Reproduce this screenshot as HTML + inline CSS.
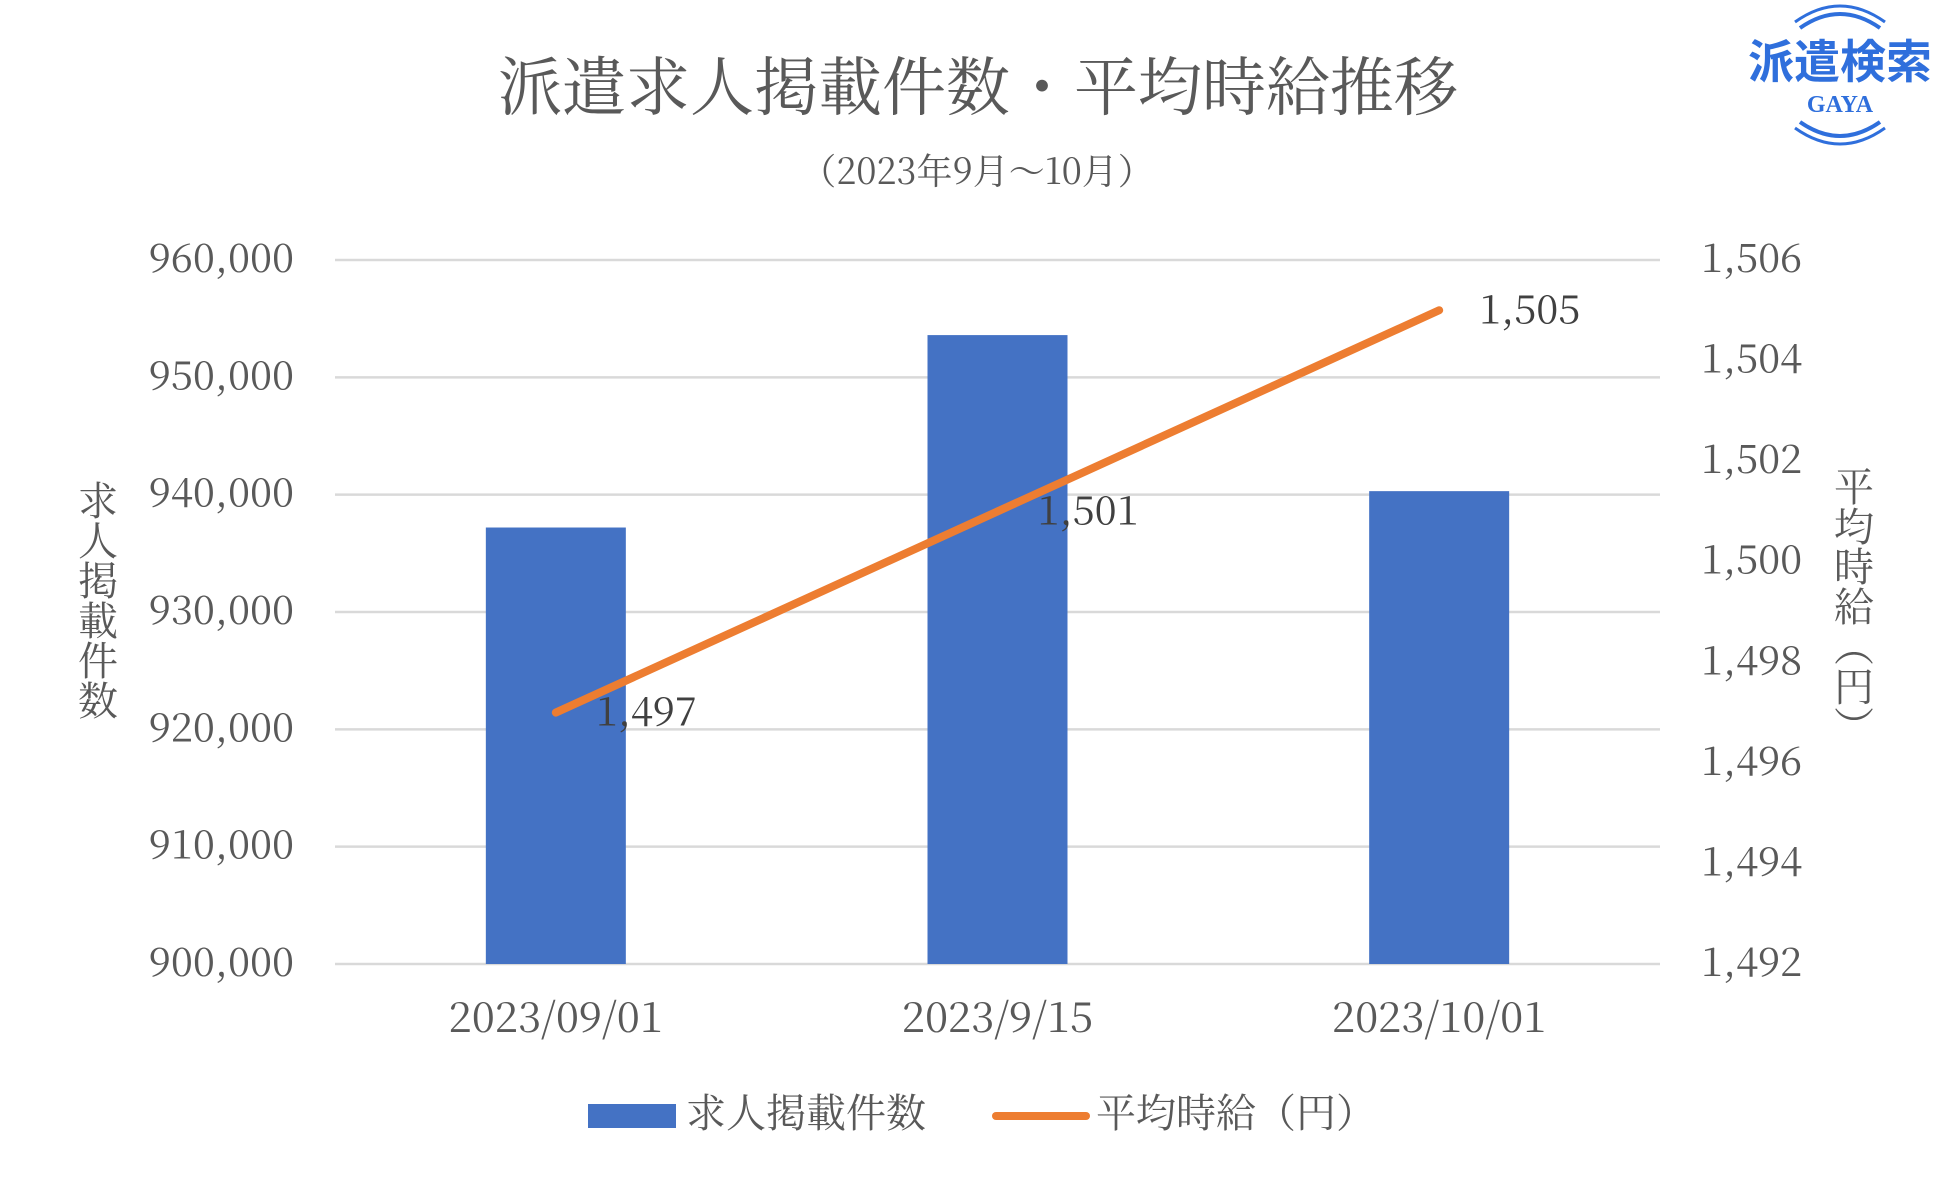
<!DOCTYPE html>
<html><head><meta charset="utf-8">
<style>
html,body{margin:0;padding:0;background:#fff;}
svg{display:block;font-family:"Noto Serif CJK JP","Liberation Serif",serif;}
</style></head>
<body>
<svg id="chart" width="1949" height="1182" viewBox="0 0 1949 1182" xmlns="http://www.w3.org/2000/svg">
<text x="978" y="110" text-anchor="middle" font-size="64" fill="#595959">派遣求人掲載件数・平均時給推移</text>
<text x="977" y="184" text-anchor="middle" font-size="36" fill="#595959">（2023年9月～10月）</text>
<g>
<path d="M1800 28 Q1840 0 1880 28" fill="none" stroke="#2f6fdc" stroke-width="4"/>
<path d="M1795 22 Q1840 -10 1885 22" fill="none" stroke="#2f6fdc" stroke-width="3"/>
<text x="1840" y="78" text-anchor="middle" font-size="46" font-weight="bold" fill="#2f6fdc" font-family="'Noto Sans CJK JP',sans-serif">派遣検索</text>
<text x="1840" y="112" text-anchor="middle" font-size="24" font-weight="bold" fill="#2f6fdc" font-family="'Liberation Serif',serif">GAYA</text>
<path d="M1800 122 Q1840 150 1880 122" fill="none" stroke="#2f6fdc" stroke-width="4"/>
<path d="M1795 128 Q1840 160 1885 128" fill="none" stroke="#2f6fdc" stroke-width="3"/>
</g>
<g id="grid"></g><g id="bars"></g><g id="line"></g><g id="labels"></g>
<text font-size="40" fill="#595959" style="writing-mode:vertical-rl" x="98" y="480" text-anchor="start">求人掲載件数</text>
<text font-size="40" fill="#595959" style="writing-mode:vertical-rl" x="1854" y="466" text-anchor="start">平均時給（円）</text>
<g>
<rect x="588" y="1104" width="88" height="24" fill="#4472c4"/>
<text x="686" y="1127" font-size="40" fill="#595959">求人掲載件数</text>
<line x1="996" y1="1116" x2="1086" y2="1116" stroke="#ed7d31" stroke-width="8" stroke-linecap="round"/>
<text x="1096" y="1127" font-size="40" fill="#595959">平均時給（円）</text>
</g>
</svg>
<script>
const categories=["2023/09/01","2023/9/15","2023/10/01"];
const jobCounts=[937200,953600,940300];
const avgWage=[1497,1501,1505];
const leftTicks=[900000,910000,920000,930000,940000,950000,960000];
const rightTicks=[1492,1494,1496,1498,1500,1502,1504,1506];
const NS="http://www.w3.org/2000/svg";
const L=335,R=1660,T=260,B=964;
const yL=v=>B-(v-900000)/60000*(B-T);
const yR=v=>B-(v-1492)/14*(B-T);
const xC=i=>L+(i+0.5)*(R-L)/categories.length;
function mk(tag,at,parent,txt){const e=document.createElementNS(NS,tag);for(const k in at)e.setAttribute(k,at[k]);if(txt!==undefined)e.textContent=txt;document.getElementById(parent).appendChild(e);return e;}
const fmt=v=>v.toLocaleString("en-US");
leftTicks.forEach(v=>{
 const g=mk("line",{x1:L,x2:R,y1:yL(v),y2:yL(v),stroke:"#d9d9d9","stroke-width":2.5},"grid");
 
 
 const t=mk("text",{x:294,y:yL(v)+12,"text-anchor":"end","font-size":40,fill:"#595959"},"labels",fmt(v));
 
 
});
rightTicks.forEach(v=>{
 const t=mk("text",{x:1701,y:yR(v)+12,"font-size":40,fill:"#595959"},"labels",fmt(v));
 
 
});
categories.forEach((c,i)=>{
 const b=mk("rect",{x:xC(i)-70,y:yL(jobCounts[i]),width:140,height:B-yL(jobCounts[i]),fill:"#4472c4"},"bars");
 
 
 const t=mk("text",{x:xC(i),y:1032,"text-anchor":"middle","font-size":42,fill:"#595959"},"labels",c);
 
 
});
const pl=mk("polyline",{points:avgWage.map((v,i)=>xC(i)+","+yR(v)).join(" "),fill:"none",stroke:"#ed7d31","stroke-width":8,"stroke-linecap":"round","stroke-linejoin":"round"},"line");


avgWage.forEach((v,i)=>{
 const t=mk("text",{x:xC(i)+40,y:yR(v)+13,"font-size":40,fill:"#404040"},"labels",fmt(v));
 
 
});
</script>
</body></html>
